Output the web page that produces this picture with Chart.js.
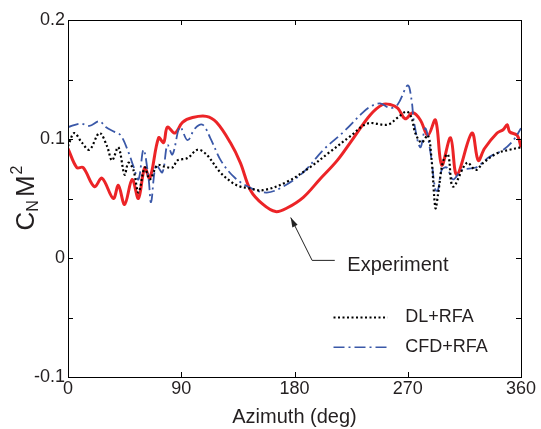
<!DOCTYPE html>
<html>
<head>
<meta charset="utf-8">
<script src="https://cdn.jsdelivr.net/npm/chart.js@4.4.1/dist/chart.umd.min.js"></script>
<style>
  body { margin: 0; background: #fff; }
  #wrap { width: 541px; height: 429px; }
</style>
</head>
<body>
<div id="wrap"><canvas id="cnChart"></canvas></div>
<script>
// Experiment (red solid)
const expAz = [0, 7, 12, 21, 27, 36, 40, 45, 51, 56, 61, 65, 72, 76, 79, 85, 91, 99, 110, 118, 129, 137,
  145, 155, 165, 174, 187, 200, 214, 227, 240, 250, 256, 262, 268, 274, 280, 286, 292, 297, 304, 309,
  321, 326, 331, 341, 346, 349, 351, 357, 360];
const expCn = [0.092, 0.076, 0.076, 0.060, 0.067, 0.050, 0.061, 0.045, 0.066, 0.050, 0.076, 0.067, 0.101, 0.097, 0.110, 0.105, 0.114, 0.118, 0.119, 0.114, 0.097, 0.080,
  0.057, 0.045, 0.039, 0.042, 0.051, 0.066, 0.082, 0.101, 0.120, 0.129, 0.129, 0.126, 0.117, 0.122, 0.116, 0.103, 0.116, 0.078, 0.101, 0.070,
  0.105, 0.082, 0.092, 0.105, 0.108, 0.112, 0.106, 0.103, 0.093];

// DL+RFA (black dotted)
const dlAz = [0, 5, 11, 17, 25, 31, 35, 40, 45, 48, 52, 56, 61, 65, 71, 76, 83, 87, 95, 103, 110, 121, 131, 137,
  142, 155, 174, 192, 208, 224, 238, 254, 262, 269, 273, 276, 281, 286, 289, 292, 294, 298, 302, 306,
  317, 324, 330, 341, 351, 360];
const dlCn = [0.094, 0.105, 0.097, 0.091, 0.105, 0.094, 0.082, 0.093, 0.070, 0.080, 0.074, 0.055, 0.076, 0.066, 0.078, 0.077, 0.076, 0.082, 0.084, 0.091, 0.087, 0.072, 0.063, 0.060,
  0.059, 0.057, 0.064, 0.076, 0.089, 0.102, 0.113, 0.112, 0.118, 0.123, 0.118, 0.105, 0.097, 0.103, 0.082, 0.042, 0.053, 0.081, 0.087, 0.060,
  0.080, 0.074, 0.080, 0.088, 0.091, 0.093];

// CFD+RFA (blue dash-dot)
const cfdAz = [0, 10, 17, 25, 30, 37, 42, 48, 52, 56, 60, 64, 66, 70, 75, 79, 83, 89, 95, 101, 107, 113, 122, 133,
  145, 158, 171, 187, 203, 219, 234, 240, 248, 256, 262, 270, 273, 275, 280, 284, 288, 292, 294, 297, 301, 306,
  313, 324, 335, 346, 354, 360];
const cfdCn = [0.110, 0.113, 0.111, 0.115, 0.110, 0.106, 0.103, 0.089, 0.077, 0.066, 0.091, 0.067, 0.047, 0.078, 0.072, 0.095, 0.087, 0.110, 0.099, 0.109, 0.112, 0.101, 0.081, 0.067,
  0.059, 0.055, 0.060, 0.072, 0.091, 0.106, 0.122, 0.127, 0.130, 0.126, 0.129, 0.145, 0.133, 0.114, 0.093, 0.109, 0.089, 0.057, 0.057, 0.074, 0.076, 0.066,
  0.074, 0.076, 0.085, 0.091, 0.099, 0.109];

const xTicks = [0, 90, 180, 270, 360];
const yTicks = [-0.1, 0, 0.1, 0.2];
const yMinor = [-0.1, -0.05, 0, 0.05, 0.1, 0.15, 0.2];

const FONT = 'Liberation Sans';
const TXT = '#231f20';

function pts(az, cn) {
  return az.map((a, i) => ({ x: a, y: cn[i] }));
}

// box, inward ticks, y title, arrow annotation and legend
const decor = {
  id: 'decor',
  afterDraw(chart) {
    const ctx = chart.ctx;
    const a = chart.chartArea;
    const xs = chart.scales.x, ys = chart.scales.y;
    ctx.save();
    ctx.strokeStyle = '#000';
    ctx.lineWidth = 1;
    ctx.strokeRect(a.left + 0.5, a.top + 0.5, a.right - a.left, a.bottom - a.top);
    ctx.beginPath();
    xTicks.forEach(v => {
      const px = Math.round(xs.getPixelForValue(v)) + 0.5;
      ctx.moveTo(px, a.bottom); ctx.lineTo(px, a.bottom - 5);
      ctx.moveTo(px, a.top); ctx.lineTo(px, a.top + 5);
    });
    yMinor.forEach(v => {
      const py = Math.round(ys.getPixelForValue(v)) + 0.5;
      ctx.moveTo(a.left, py); ctx.lineTo(a.left + 5, py);
      ctx.moveTo(a.right, py); ctx.lineTo(a.right - 5, py);
    });
    ctx.stroke();

    // y axis title C_N M^2
    ctx.save();
    ctx.translate(34, 198);
    ctx.rotate(-Math.PI / 2);
    ctx.fillStyle = TXT;
    ctx.textBaseline = 'alphabetic';
    ctx.textAlign = 'left';
    const big = '26px ' + FONT, small = '16px ' + FONT;
    ctx.font = big;
    const wc = ctx.measureText('C').width;
    const wm = ctx.measureText('M').width;
    ctx.font = small;
    const wn = ctx.measureText('N').width;
    const w2 = ctx.measureText('2').width;
    const x0 = -(wc + wn + 3 + wm + w2 + 1) / 2;
    ctx.font = big;
    ctx.fillText('C', x0, 0);
    ctx.font = small;
    ctx.fillText('N', x0 + wc, 4);
    ctx.font = big;
    ctx.fillText('M', x0 + wc + wn + 3, 0);
    ctx.font = small;
    ctx.fillText('2', x0 + wc + wn + 3 + wm + 1, -12);
    ctx.restore();

    // arrow annotation for Experiment
    const tipX = xs.getPixelForValue(177), tipY = ys.getPixelForValue(0.034);
    const elX = xs.getPixelForValue(194), elY = ys.getPixelForValue(-0.002);
    const enX = xs.getPixelForValue(212);
    ctx.strokeStyle = '#222';
    ctx.lineWidth = 1;
    ctx.beginPath();
    ctx.moveTo(enX, elY); ctx.lineTo(elX, elY); ctx.lineTo(tipX, tipY);
    ctx.stroke();
    const ang = Math.atan2(tipY - elY, tipX - elX);
    ctx.fillStyle = '#222';
    ctx.beginPath();
    ctx.moveTo(tipX, tipY);
    ctx.lineTo(tipX - 10 * Math.cos(ang - 0.3), tipY - 10 * Math.sin(ang - 0.3));
    ctx.lineTo(tipX - 10 * Math.cos(ang + 0.3), tipY - 10 * Math.sin(ang + 0.3));
    ctx.closePath();
    ctx.fill();
    ctx.fillStyle = TXT;
    ctx.font = '20px ' + FONT;
    ctx.textBaseline = 'middle';
    ctx.fillText('Experiment', xs.getPixelForValue(222), ys.getPixelForValue(-0.006));

    // legend
    const items = [
      { label: 'DL+RFA', color: '#000', dash: [2, 2.5], y: -0.05, w: 2 },
      { label: 'CFD+RFA', color: '#3a58a8', dash: [11, 4, 2, 4], y: -0.075, w: 1.6 }
    ];
    ctx.font = '18px ' + FONT;
    items.forEach(it => {
      const py = ys.getPixelForValue(it.y);
      ctx.strokeStyle = it.color;
      ctx.lineWidth = it.w;
      ctx.setLineDash(it.dash);
      ctx.beginPath();
      ctx.moveTo(xs.getPixelForValue(211), py);
      ctx.lineTo(xs.getPixelForValue(254), py);
      ctx.stroke();
      ctx.setLineDash([]);
      ctx.fillStyle = TXT;
      ctx.fillText(it.label, xs.getPixelForValue(268), py);
    });
    ctx.restore();
  }
};

const ctx = document.getElementById('cnChart').getContext('2d');
const cnChart = new Chart(ctx, {
  type: 'line',
  data: {
    datasets: [
      {
        label: 'DL+RFA',
        data: pts(dlAz, dlCn),
        borderColor: '#000',
        borderWidth: 2.2,
        borderDash: [2, 2.5],
        pointRadius: 0,
        tension: 0.35
      },
      {
        label: 'CFD+RFA',
        data: pts(cfdAz, cfdCn),
        borderColor: '#3a58a8',
        borderWidth: 1.8,
        borderDash: [11, 4, 2, 4],
        pointRadius: 0,
        tension: 0.35
      },
      {
        label: 'Experiment',
        data: pts(expAz, expCn),
        borderColor: '#ec2427',
        borderWidth: 3,
        pointRadius: 0,
        tension: 0.35
      }
    ]
  },
  options: {
    responsive: true,
    maintainAspectRatio: false,
    animation: false,
    layout: { padding: { top: 20, right: 20, left: 0, bottom: 0 } },
    plugins: {
      legend: { display: false },
      tooltip: { enabled: false }
    },
    scales: {
      x: {
        type: 'linear',
        min: 0,
        max: 360,
        afterBuildTicks: s => { s.ticks = xTicks.map(v => ({ value: v })); },
        afterFit: s => { s.height = 52; },
        grid: { display: false, drawTicks: false },
        border: { display: false },
        ticks: { color: TXT, padding: 1, maxRotation: 0, font: { family: FONT, size: 18 } },
        title: {
          display: true,
          text: 'Azimuth (deg)',
          color: TXT,
          padding: { top: 0, bottom: 0 },
          font: { family: FONT, size: 20 }
        }
      },
      y: {
        min: -0.1,
        max: 0.2,
        afterBuildTicks: s => { s.ticks = yTicks.map(v => ({ value: v })); },
        afterFit: s => { s.width = 68; },
        grid: { display: false, drawTicks: false },
        border: { display: false },
        ticks: {
          color: TXT,
          padding: 3,
          font: { family: FONT, size: 18 },
          callback: v => (Math.abs(v) < 1e-9 ? '0' : String(Math.round(v * 10) / 10))
        }
      }
    }
  },
  plugins: [decor]
});
</script>
</body>
</html>
